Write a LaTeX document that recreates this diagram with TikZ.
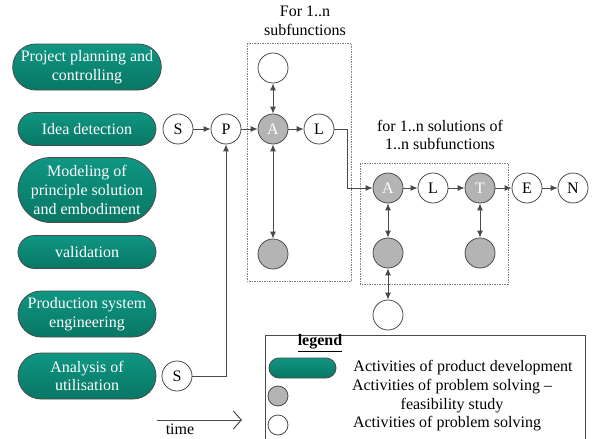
\documentclass[tikz,border=0pt]{standalone}
\usepackage{fontspec}
\setmainfont{Liberation Serif}
\usepackage{tikz}
\usetikzlibrary{shapes.misc,arrows.meta}

\definecolor{pilltop}{HTML}{0F9683}
\definecolor{pillbot}{HTML}{087764}
\definecolor{edgegray}{HTML}{4A4A4A}
\definecolor{fillgray}{HTML}{B4B4B4}

\tikzset{
  txt/.style={font=\fontsize{16}{18.7}\selectfont},
  activity/.style={txt, rounded rectangle, draw=edgegray, line width=0.8pt,
    top color=pilltop, bottom color=pillbot, text=white, align=center,
    minimum width=140pt, inner sep=1pt},
  solve/.style={txt, circle, draw=edgegray, line width=0.8pt, fill=white,
    minimum size=30pt, inner sep=0pt},
  feasible/.style={solve, fill=fillgray, text=white},
  flow/.style={draw=edgegray, line width=0.9pt, -{Latex[length=7pt,width=6pt]}},
  both/.style={flow, {Latex[length=7pt,width=6pt]}-{Latex[length=7pt,width=6pt]}},
  loopbox/.style={draw=gray, line width=0.6pt, dash pattern=on 1.5pt off 1pt}
}

\begin{document}
\begin{tikzpicture}[x=1pt,y=-1pt]
        \useasboundingbox (0,0) rectangle (603,439);

        % Activities of product development
        \node[activity, minimum height=46pt] (plan) at (87,67) {Project planning and\\controlling};
        \node[activity, minimum height=33pt] (idea) at (87,129) {Idea detection};
        \node[activity, minimum height=65pt] (model) at (87,190) {Modeling of\\principle solution\\and embodiment};
        \node[activity, minimum height=33pt] (valid) at (87,252) {validation};
        \node[activity, minimum height=46pt] (prod) at (87,314) {Production system\\engineering};
        \node[activity, minimum height=46pt] (util) at (87,376) {Analysis of\\utilisation};

        % Problem solving steps
        \node[solve] (S) at (178,129) {S};
        \node[solve] (P) at (226,129) {P};
        \node[feasible] (A) at (273,129) {A};
        \node[solve] (L) at (319,129) {L};
        \node[solve] (Atop) at (273,68) {};
        \node[feasible] (Abot) at (273,254) {};
        \node[solve] (S2) at (177,376) {S};

        \node[feasible] (A2) at (388,188) {A};
        \node[solve] (L2) at (433,188) {L};
        \node[feasible] (T) at (480,188) {T};
        \node[solve] (E) at (527,188) {E};
        \node[solve] (N) at (573,188) {N};
        \node[feasible] (A2bot) at (388,253) {};
        \node[feasible] (Tbot) at (480,253) {};
        \node[solve] (A2end) at (388,315) {};

        % Loops
        \draw[loopbox] (247,43) rectangle (351,281);
        \draw[loopbox] (360,163) rectangle (508,284);
        \node[txt, align=center] (loopA) at (305,21) {For 1..n\\subfunctions};
        \node[txt, align=center] (loopB) at (440,135) {for 1..n solutions of\\1..n subfunctions};

        % Draw the connectors
        \draw[flow] (S) -- (P);
        \draw[flow] (P) -- (A);
        \draw[flow] (A) -- (L);
        \draw[both] (Atop) -- (A);
        \draw[both] (A) -- (Abot);
        \draw[flow] (S2) -| (P);
        \coordinate (bend) at (347,129);
        \draw[flow] (L) -- (bend) |- (A2);
        \draw[flow] (A2) -- (L2);
        \draw[flow] (L2) -- (T);
        \draw[flow] (T) -- (E);
        \draw[flow] (E) -- (N);
        \draw[both] (A2) -- (A2bot);
        \draw[both] (A2bot) -- (A2end);
        \draw[both] (T) -- (Tbot);

        % Time axis
        \coordinate (t0) at (157,420);
        \coordinate (t1) at (242,420);
        \draw[edgegray, line width=1pt, -{Straight Barb[length=8pt,width=18pt]}] (t0) -- (t1);
        \node[txt] (time) at (180,429) {time};

        % Legend
        \draw[edgegray, line width=0.8pt] (265,445) -- (265,335) -- (585,335) -- (585,445);
        \node[txt] (legend) at (320,343) {\underline{\textbf{legend}}};
        \node[activity, minimum width=69pt, minimum height=20pt] (keyA) at (302.5,368) {};
        \node[feasible, minimum size=20pt] (keyB) at (278,396) {};
        \node[solve, minimum size=20pt] (keyC) at (278,425) {};
        \node[txt] (textA) at (463,368) {Activities of product development};
        \node[txt] (textB1) at (452,387) {Activities of problem solving --};
        \node[txt] (textB2) at (452,406) {feasibility study};
        \node[txt] (textC) at (447,424) {Activities of problem solving};
\end{tikzpicture}
\end{document}
